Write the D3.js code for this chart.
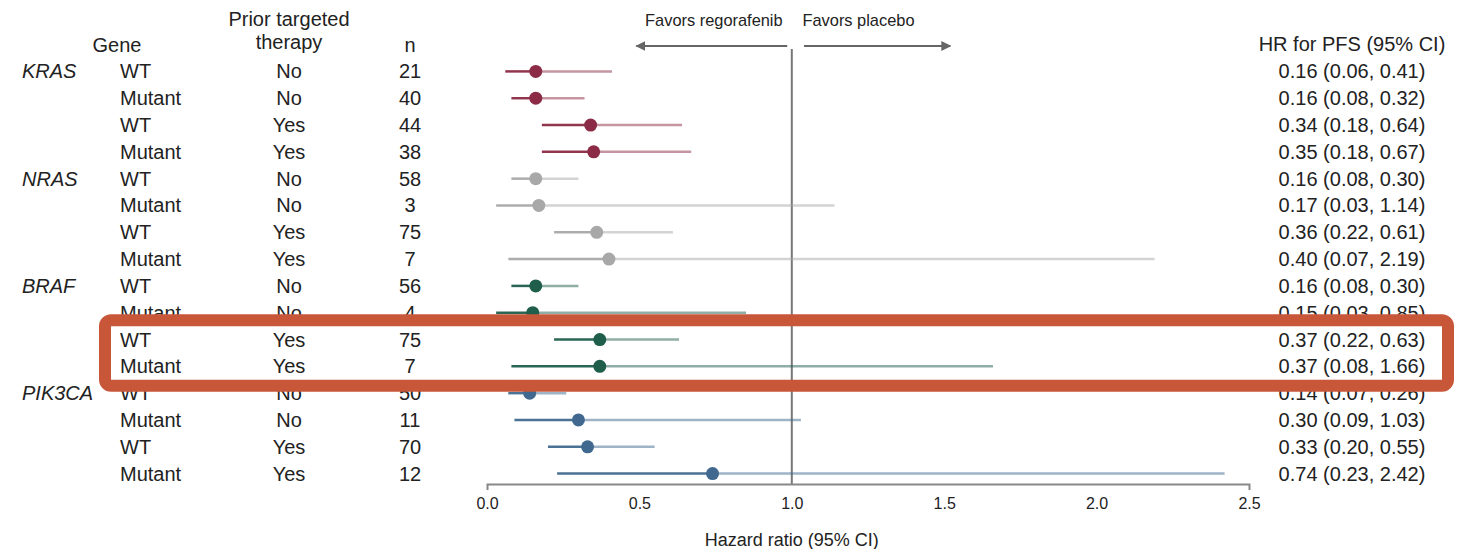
<!DOCTYPE html>
<html>
<head>
<meta charset="utf-8">
<script src="https://cdn.jsdelivr.net/npm/d3@7"></script>
<style>
  body { margin: 0; background: #fff; }
  text { font-family: "Liberation Sans", Arial, sans-serif; fill: #222; }
</style>
</head>
<body>
<svg width="1468" height="549"></svg>
<script>
/* forest plot: HR for PFS by gene status and prior targeted therapy */

const genes = ["KRAS", "NRAS", "BRAF", "PIK3CA"];
const geneColors = ["#8c2b45", "#a8a8a8", "#1f5e4b", "#41698f"];
const status = ["WT", "Mutant", "WT", "Mutant"];
const priorTherapy = ["No", "No", "Yes", "Yes"];

// one entry per row, 4 rows per gene in the order above
const nPatients = [21, 40, 44, 38, 58, 3, 75, 7, 56, 4, 75, 7, 50, 11, 70, 12];
const hr   = [0.16, 0.16, 0.34, 0.35, 0.16, 0.17, 0.36, 0.40, 0.16, 0.15, 0.37, 0.37, 0.14, 0.30, 0.33, 0.74];
const ciLo = [0.06, 0.08, 0.18, 0.18, 0.08, 0.03, 0.22, 0.07, 0.08, 0.03, 0.22, 0.08, 0.07, 0.09, 0.20, 0.23];
const ciHi = [0.41, 0.32, 0.64, 0.67, 0.30, 1.14, 0.61, 2.19, 0.30, 0.85, 0.63, 1.66, 0.26, 1.03, 0.55, 2.42];

const xTicks = [0, 0.5, 1.0, 1.5, 2.0, 2.5];
const highlightRows = [10, 11];   // rows boxed in red

const rows = nPatients.map((n, i) => ({
    idx: i,
    gene: genes[Math.floor(i / 4)],
    color: geneColors[Math.floor(i / 4)],
    status: status[i % 4],
    prior: priorTherapy[i % 4],
    n: n, hr: hr[i], lo: ciLo[i], hi: ciHi[i]
}));

const svg = d3.select("svg");
const FS = 20;

const x = d3.scaleLinear().domain([0, 2.5]).range([487, 1249]);
const y = d3.scaleBand().domain(d3.range(rows.length)).range([58, 487]).paddingInner(0);
const yc = i => y(i) + y.bandwidth() / 2;

/* column headers */
const head = svg.append("g").attr("font-size", FS);
head.append("text").attr("x", 117).attr("y", 45).attr("text-anchor", "middle")
    .attr("dominant-baseline", "central").text("Gene");
head.append("text").attr("x", 289).attr("y", 19).attr("text-anchor", "middle")
    .attr("dominant-baseline", "central").text("Prior targeted");
head.append("text").attr("x", 289).attr("y", 42).attr("text-anchor", "middle")
    .attr("dominant-baseline", "central").text("therapy");
head.append("text").attr("x", 410).attr("y", 45).attr("text-anchor", "middle")
    .attr("dominant-baseline", "central").text("n");
head.append("text").attr("x", 1352).attr("y", 44).attr("text-anchor", "middle")
    .attr("dominant-baseline", "central").text("HR for PFS (95% CI)");

/* table text */
const table = svg.append("g").attr("font-size", FS);
table.selectAll(".gene").data(rows.filter(r => r.idx % 4 === 0)).join("text")
    .attr("x", 22).attr("y", d => yc(d.idx))
    .attr("dominant-baseline", "central").attr("font-style", "italic")
    .text(d => d.gene);
table.selectAll(".status").data(rows).join("text")
    .attr("x", 120).attr("y", d => yc(d.idx))
    .attr("dominant-baseline", "central").text(d => d.status);
table.selectAll(".prior").data(rows).join("text")
    .attr("x", 289).attr("y", d => yc(d.idx)).attr("text-anchor", "middle")
    .attr("dominant-baseline", "central").text(d => d.prior);
table.selectAll(".n").data(rows).join("text")
    .attr("x", 410).attr("y", d => yc(d.idx)).attr("text-anchor", "middle")
    .attr("dominant-baseline", "central").text(d => d.n);
table.selectAll(".hrtext").data(rows).join("text")
    .attr("x", 1352).attr("y", d => yc(d.idx)).attr("text-anchor", "middle")
    .attr("dominant-baseline", "central")
    .text(d => `${d.hr.toFixed(2)} (${d.lo.toFixed(2)}, ${d.hi.toFixed(2)})`);

/* reference line at HR = 1 */
svg.append("line")
    .attr("x1", x(1)).attr("x2", x(1)).attr("y1", 49).attr("y2", 484)
    .attr("stroke", "#777").attr("stroke-width", 2);

/* favors arrows */
const defs = svg.append("defs");
defs.append("marker").attr("id", "arr").attr("viewBox", "0 0 10 10")
    .attr("refX", 9).attr("refY", 5).attr("markerWidth", 5).attr("markerHeight", 5)
    .attr("orient", "auto-start-reverse")
    .append("path").attr("d", "M0,0L10,5L0,10z").attr("fill", "#666");
svg.append("line").attr("x1", x(0.985)).attr("x2", x(0.49)).attr("y1", 46).attr("y2", 46)
    .attr("stroke", "#666").attr("stroke-width", 2).attr("marker-end", "url(#arr)");
svg.append("line").attr("x1", x(1.04)).attr("x2", x(1.52)).attr("y1", 46).attr("y2", 46)
    .attr("stroke", "#666").attr("stroke-width", 2).attr("marker-end", "url(#arr)");
svg.append("text").attr("x", x(0.97)).attr("y", 20).attr("text-anchor", "end")
    .attr("font-size", 16.4).attr("dominant-baseline", "central").text("Favors regorafenib");
svg.append("text").attr("x", x(1.035)).attr("y", 20)
    .attr("font-size", 16.4).attr("dominant-baseline", "central").text("Favors placebo");

/* CI lines: darker on the lower side, lighter on the upper side */
const marks = svg.append("g");
marks.selectAll(".lo").data(rows).join("line")
    .attr("x1", d => x(d.lo)).attr("x2", d => x(d.hr))
    .attr("y1", d => yc(d.idx)).attr("y2", d => yc(d.idx))
    .attr("stroke", d => d.color).attr("stroke-width", 2.5).attr("stroke-opacity", 0.95);
marks.selectAll(".hi").data(rows).join("line")
    .attr("x1", d => x(d.hr)).attr("x2", d => x(d.hi))
    .attr("y1", d => yc(d.idx)).attr("y2", d => yc(d.idx))
    .attr("stroke", d => d.color).attr("stroke-width", 2.5).attr("stroke-opacity", 0.5);
marks.selectAll("circle").data(rows).join("circle")
    .attr("cx", d => x(d.hr)).attr("cy", d => yc(d.idx)).attr("r", 6.5)
    .attr("fill", d => d.color);

/* x axis */
const axis = svg.append("g").attr("transform", "translate(0,484)")
    .call(d3.axisBottom(x).tickValues(xTicks).tickFormat(d3.format(".1f"))
        .tickSizeInner(0).tickSizeOuter(6).tickPadding(14));
axis.select(".domain").attr("stroke", "#888").attr("stroke-width", 2);
axis.selectAll("text").attr("font-size", 16).attr("fill", "#333")
    .attr("font-family", "'Liberation Sans', Arial, sans-serif");
svg.append("text").attr("x", x(1)).attr("y", 540).attr("text-anchor", "middle")
    .attr("font-size", 18).attr("dominant-baseline", "central").text("Hazard ratio (95% CI)");

/* highlight box */
const boxTop = y(highlightRows[0]), boxBottom = y(highlightRows[1]) + y.bandwidth();
svg.append("rect")
    .attr("x", 105).attr("y", boxTop - 6)
    .attr("width", 1448 - 105).attr("height", boxBottom - boxTop + 12)
    .attr("rx", 6).attr("fill", "none")
    .attr("stroke", "#c8573a").attr("stroke-width", 12);
</script>
</body>
</html>
